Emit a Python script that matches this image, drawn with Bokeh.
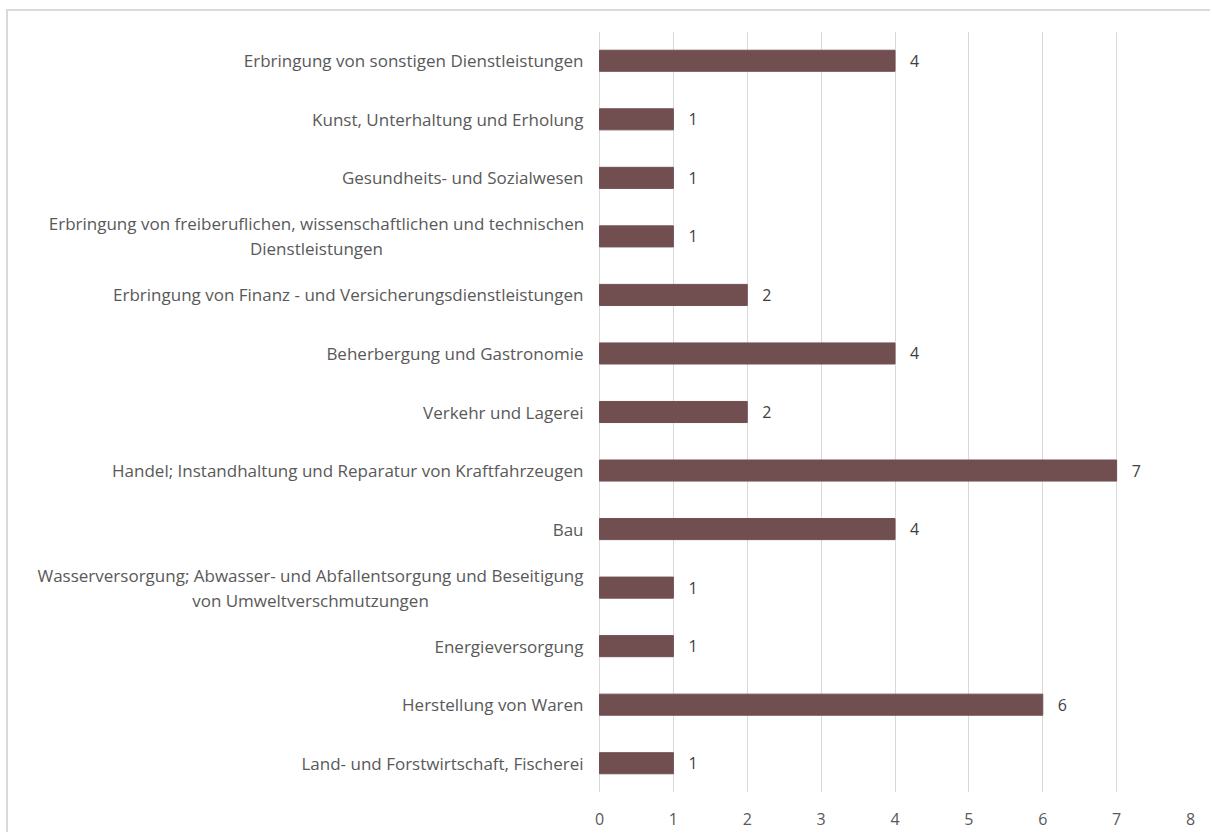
from bokeh.plotting import figure
from bokeh.models import ColumnDataSource, FixedTicker
from bokeh.core.properties import value
from bokeh.embed import file_html
from bokeh.resources import INLINE

categories = [
    "Land- und Forstwirtschaft, Fischerei",
    "Herstellung von Waren",
    "Energieversorgung",
    "Wasserversorgung; Abwasser- und Abfallentsorgung und Beseitigung\nvon Umweltverschmutzungen",
    "Bau",
    "Handel; Instandhaltung und Reparatur von Kraftfahrzeugen",
    "Verkehr und Lagerei",
    "Beherbergung und Gastronomie",
    "Erbringung von Finanz - und Versicherungsdienstleistungen",
    "Erbringung von freiberuflichen, wissenschaftlichen und technischen\nDienstleistungen",
    "Gesundheits- und Sozialwesen",
    "Kunst, Unterhaltung und Erholung",
    "Erbringung von sonstigen Dienstleistungen",
]
counts = [1, 6, 1, 1, 4, 7, 2, 4, 2, 1, 1, 1, 4]
x_ticks = [0, 1, 2, 3, 4, 5, 6, 7, 8]

FONT = "Open Sans"
FS = "16px"
CAT_FS = "17px"
TXT = "#595959"

src = ColumnDataSource(dict(cat=categories, val=counts, lbl=[str(v) for v in counts]))

# the label column lives inside the frame: x range extends to the left of 0
p = figure(
    y_range=categories, x_range=(-8, 8),
    width=1204, height=823,
    output_backend="svg", toolbar_location=None,
    min_border_left=0, min_border_right=22, min_border_top=20, min_border_bottom=42,
)
p.styles = {"border-left": "2px solid #d9d9d9", "border-top": "2px solid #d9d9d9",
            "margin-left": "6px", "margin-top": "9px"}
p.outline_line_color = None
p.hbar(y="cat", right="val", left=0, height=0.36, source=src,
       fill_color="#714F51", line_color="#714F51")
p.text(x="val", y="cat", text="lbl", source=src, x_offset=15,
       text_baseline="middle", text_align="left", text_font_size=FS,
       text_font=value(FONT), text_color="#404040")

# category labels: single-line right aligned, wrapped ones centred as a block
single = [c for c in categories if "\n" not in c]
wrapped = [c for c in categories if "\n" in c]
s1 = ColumnDataSource(dict(cat=single, zero=[0] * len(single)))
p.text(x="zero", y="cat", text="cat", source=s1, x_offset=-16,
       text_align="right", text_baseline="middle",
       text_font=value(FONT), text_font_size=CAT_FS, text_color=TXT)
centre_off = {wrapped[0]: -289, wrapped[1]: -283}
s2 = ColumnDataSource(dict(cat=wrapped, zero=[0] * len(wrapped),
                           off=[centre_off[c] for c in wrapped]))
p.text(x="zero", y="cat", text="cat", source=s2, x_offset="off",
       text_align="center", text_baseline="middle", text_line_height=1.08,
       text_font=value(FONT), text_font_size=CAT_FS, text_color=TXT)

p.xgrid.ticker = FixedTicker(ticks=x_ticks)
p.xaxis.ticker = FixedTicker(ticks=x_ticks)
p.xgrid.grid_line_color = "#d9d9d9"
p.xgrid.grid_line_width = 1
p.ygrid.grid_line_color = None

p.yaxis.visible = False
ax = p.xaxis
ax.axis_line_color = None
ax.major_tick_line_color = None
ax.minor_tick_line_color = None
ax.major_label_text_font = FONT
ax.major_label_text_font_size = FS
ax.major_label_text_color = TXT
ax.major_label_standoff = 14

open("out.html", "w").write(file_html(p, INLINE))
